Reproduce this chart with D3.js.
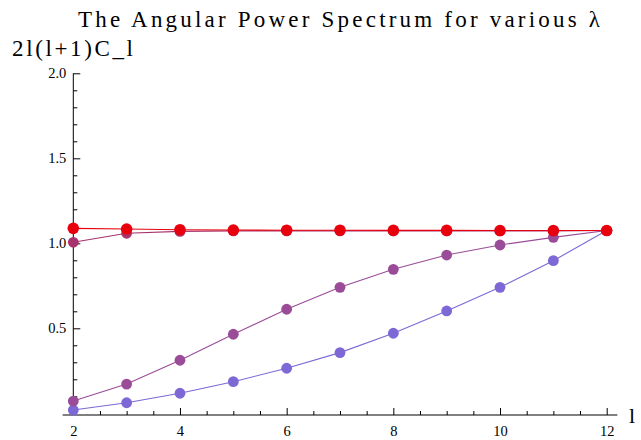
<!DOCTYPE html>
<html>
<head>
<meta charset="utf-8">
<script src="https://cdn.jsdelivr.net/npm/d3@7/dist/d3.min.js"></script>
</head>
<body style="margin:0">
<svg id="chart" width="641" height="440"></svg>
<script>
// ---- data ----
const ells = [2, 3, 4, 5, 6, 7, 8, 9, 10, 11, 12];
const seriesBlue    = [0.019, 0.062, 0.118, 0.186, 0.265, 0.357, 0.471, 0.602, 0.741, 0.898, 1.075];
const seriesPurple  = [0.072, 0.172, 0.312, 0.465, 0.612, 0.741, 0.847, 0.931, 0.990, 1.035, 1.075];
const seriesCrimson = [1.006, 1.059, 1.070, 1.073, 1.073, 1.073, 1.073, 1.073, 1.073, 1.073, 1.075];
const seriesRed     = [1.088, 1.084, 1.080, 1.078, 1.077, 1.077, 1.076, 1.076, 1.075, 1.075, 1.075];
const seriesColors  = ["#7d68d6", "#9a4c98", "#a8336c", "#e8000c"];
const xMajorTicks = [2, 4, 6, 8, 10, 12];
const xMinorTicks = [2.5, 3, 3.5, 4.5, 5, 5.5, 6.5, 7, 7.5, 8.5, 9, 9.5, 10.5, 11, 11.5];
const yMajorTicks = [0.5, 1.0, 1.5, 2.0];
const yMinorTicks = [0.1, 0.2, 0.3, 0.4, 0.6, 0.7, 0.8, 0.9, 1.1, 1.2, 1.3, 1.4, 1.6, 1.7, 1.8, 1.9];
const titleText = "The Angular Power Spectrum for various \u03bb";
const yLabelText = "2l(l+1)C_l";
const xLabelText = "l";

const FONT = "Liberation Serif";
const svg = d3.select("#chart");

const x = d3.scaleLinear().domain([2, 12]).range([73.3, 606.7]);
const y = d3.scaleLinear().domain([0, 1]).range([413.3, 243.3]);
const xAxisY = y(-0.01);

// ---- axes ----
const gx = svg.append("g").attr("transform", `translate(0,${xAxisY})`);
gx.append("g").call(d3.axisBottom(x).tickValues(xMinorTicks).tickSizeInner(-4).tickSizeOuter(0).tickFormat(""))
  .call(g => g.select(".domain").remove());
gx.append("g").call(d3.axisBottom(x).tickValues(xMajorTicks).tickSizeInner(-7).tickSizeOuter(0).tickPadding(11).tickFormat(d3.format("d")))
  .call(g => g.select(".domain").remove());
gx.selectAll("line").attr("stroke", "#000").attr("stroke-width", 1);
gx.append("line").attr("x1", x(1.8)).attr("x2", x(12.2)).attr("y1", 0).attr("y2", 0).attr("stroke", "#000").attr("stroke-width", 1);

const gy = svg.append("g").attr("transform", `translate(${x(2)},0)`);
gy.append("g").call(d3.axisLeft(y).tickValues(yMinorTicks).tickSizeInner(-4).tickSizeOuter(0).tickFormat(""))
  .call(g => g.select(".domain").remove());
gy.append("g").call(d3.axisLeft(y).tickValues(yMajorTicks).tickSizeInner(-7).tickSizeOuter(0).tickPadding(7).tickFormat(d3.format(".1f")))
  .call(g => g.select(".domain").remove());
gy.selectAll("line").attr("stroke", "#000").attr("stroke-width", 1);
gy.append("line").attr("x1", 0).attr("x2", 0).attr("y1", y(2.0)).attr("y2", xAxisY).attr("stroke", "#000").attr("stroke-width", 1);

svg.selectAll(".tick text").attr("font-family", FONT).attr("font-size", 14.5).attr("fill", "#000");

// ---- series ----
const allSeries = [seriesBlue, seriesPurple, seriesCrimson, seriesRed];
const line = d3.line().x((d, i) => x(ells[i])).y(d => y(d));
allSeries.forEach((vals, si) => {
  const g = svg.append("g");
  g.append("path").datum(vals).attr("d", line)
    .attr("fill", "none").attr("stroke", seriesColors[si]).attr("stroke-width", 1.1);
  g.selectAll("circle").data(vals).join("circle")
    .attr("cx", (d, i) => x(ells[i])).attr("cy", d => y(d))
    .attr("r", si === 3 ? 5.8 : 5.4)
    .attr("fill", seriesColors[si]);
});

// ---- texts ----
const labels = [
  {t: titleText, x: 78, y: 27, s: 23, len: 522},
  {t: yLabelText, x: 12, y: 56, s: 23, len: 121},
  {t: xLabelText, x: 629, y: 423, s: 22, len: null}
];
svg.selectAll("text.lbl").data(labels).join("text")
  .attr("class", "lbl")
  .attr("x", d => d.x).attr("y", d => d.y)
  .attr("font-size", d => d.s)
  .attr("font-family", FONT)
  .text(d => d.t)
  .each(function(d) {
    if (d.len) d3.select(this).attr("textLength", d.len).attr("lengthAdjust", "spacing");
  });
</script>
</body>
</html>
